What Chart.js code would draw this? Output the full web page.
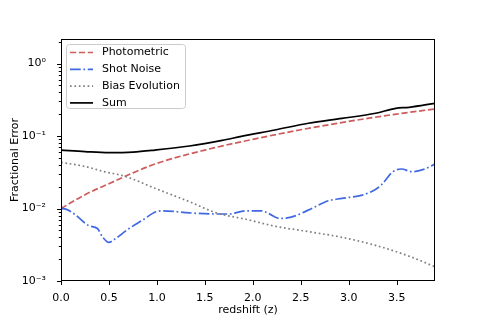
<!DOCTYPE html>
<html>
<head>
<meta charset="utf-8">
<script src="https://cdn.jsdelivr.net/npm/chart.js@4.4.0/dist/chart.umd.min.js"></script>
<style>
  html, body { margin: 0; padding: 0; background: #fff; }
  canvas { display: block; }
</style>
</head>
<body>
<canvas id="errChart" width="483" height="322"></canvas>
<script>
// values
var photoZ = [0, 0.25, 0.5, 0.75, 1.0, 1.5, 2.0, 2.5, 3.0, 3.5, 3.9];
var photoErr = [0.010, 0.0155, 0.022, 0.031, 0.042, 0.064, 0.090, 0.122, 0.159, 0.201, 0.236];

var shotZ = [0, 0.05, 0.15, 0.29, 0.38, 0.43, 0.5, 0.55, 0.71, 0.85, 0.99, 1.06, 1.34, 1.62, 1.76, 1.92, 2.09, 2.16, 2.28, 2.40, 2.64, 2.78, 2.93, 3.14, 3.27, 3.34, 3.46, 3.55, 3.66, 3.78, 3.9];
var shotErr = [0.0100, 0.0098, 0.0082, 0.0058, 0.0053, 0.0041, 0.0034, 0.0037, 0.0053, 0.0069, 0.0090, 0.0093, 0.0087, 0.0084, 0.0084, 0.0093, 0.0093, 0.0086, 0.0073, 0.0076, 0.0104, 0.0127, 0.0138, 0.0153, 0.0180, 0.0211, 0.0322, 0.0351, 0.0322, 0.0347, 0.041];

var biasZ = [0, 0.25, 0.46, 0.66, 0.98, 1.34, 1.62, 1.93, 2.23, 2.58, 2.93, 3.28, 3.63, 3.9];
var biasErr = [0.0434, 0.038, 0.032, 0.028, 0.019, 0.0124, 0.0087, 0.0071, 0.0057, 0.0048, 0.0040, 0.0031, 0.0022, 0.00157];

var sumZ = [0, 0.25, 0.5, 0.75, 0.98, 1.34, 1.68, 1.88, 2.23, 2.58, 2.93, 3.28, 3.49, 3.63, 3.9];
var sumErr = [0.064, 0.061, 0.059, 0.060, 0.064, 0.0728, 0.087, 0.099, 0.121, 0.150, 0.175, 0.206, 0.241, 0.249, 0.283];

var yTickLabels = { '1': '10\u2070', '0.1': '10\u207B\u00B9', '0.01': '10\u207B\u00B2', '0.001': '10\u207B\u00B3' };

function pts(xs, ys) {
    return xs.map(function (x, i) { return { x: x, y: ys[i] }; });
}

Chart.defaults.font.family = "'DejaVu Sans', sans-serif";
Chart.defaults.font.size = 11;
Chart.defaults.color = '#000';

// frame, tick marks and legend box like matplotlib
var framePlugin = {
    id: 'frame',
    afterDraw: function (chart) {
        var ctx = chart.ctx, a = chart.chartArea;
        ctx.save();
        ctx.strokeStyle = '#000';
        ctx.lineWidth = 1;
        ctx.strokeRect(a.left + 0.5, a.top + 0.5, a.right - a.left - 1, a.bottom - a.top - 1);

        var xs = chart.scales.x;
        xs.ticks.forEach(function (t) {
            var px = Math.round(xs.getPixelForValue(t.value)) + 0.5;
            ctx.beginPath();
            ctx.moveTo(px, a.bottom);
            ctx.lineTo(px, a.bottom + 4);
            ctx.stroke();
        });
        var ys = chart.scales.y;
        ys.ticks.forEach(function (t) {
            var lg = Math.log10(t.value);
            var major = Math.abs(lg - Math.round(lg)) < 1e-6;
            var m = t.value / Math.pow(10, Math.floor(lg + 1e-9));
            if (!major && Math.abs(m - Math.round(m)) > 1e-6) return;
            var py = Math.round(ys.getPixelForValue(t.value)) + 0.5;
            ctx.beginPath();
            ctx.moveTo(a.left, py);
            ctx.lineTo(a.left - (major ? 4 : 2.2), py);
            ctx.stroke();
        });

        // legend
        var bx = 66, by = 44, bw = 119, bh = 64;
        ctx.beginPath();
        ctx.roundRect(bx + 0.5, by + 0.5, bw, bh, 3);
        ctx.fillStyle = 'rgba(255,255,255,0.8)';
        ctx.fill();
        ctx.strokeStyle = '#cccccc';
        ctx.stroke();
        ctx.font = "11px 'DejaVu Sans'";
        ctx.textBaseline = 'middle';
        ctx.fillStyle = '#000';
        chart.data.datasets.forEach(function (ds, i) {
            var ly = 52.5 + i * 16.8;
            ctx.beginPath();
            ctx.strokeStyle = ds.borderColor;
            ctx.lineWidth = ds.borderWidth;
            ctx.setLineDash(ds.borderDash || []);
            ctx.moveTo(70, ly);
            ctx.lineTo(93, ly);
            ctx.stroke();
            ctx.setLineDash([]);
            ctx.fillText(ds.label, 102, ly);
        });
        ctx.restore();
    }
};

var errChart = new Chart('errChart', {
    type: 'line',
    data: {
        datasets: [{
            label: 'Photometric',
            data: pts(photoZ, photoErr),
            borderColor: '#cd5c5c',
            borderWidth: 1.7,
            borderDash: [6.2, 2.7],
            order: 3
        }, {
            label: 'Shot Noise',
            data: pts(shotZ, shotErr),
            borderColor: '#4169e1',
            borderWidth: 1.7,
            borderDash: [10.7, 2.7, 1.7, 2.7],
            order: 2
        }, {
            label: 'Bias Evolution',
            data: pts(biasZ, biasErr),
            borderColor: '#808080',
            borderWidth: 1.7,
            borderDash: [1.7, 2.7],
            order: 1
        }, {
            label: 'Sum',
            data: pts(sumZ, sumErr),
            borderColor: '#000000',
            borderWidth: 1.7,
            order: 0
        }]
    },
    options: {
        responsive: false,
        animation: false,
        elements: {
            point: { radius: 0 },
            line: { cubicInterpolationMode: 'monotone' }
        },
        layout: {
            padding: { left: 0, right: 48, top: 39, bottom: 0 }
        },
        scales: {
            x: {
                type: 'linear',
                min: 0,
                max: 3.9,
                grid: { display: false },
                border: { display: false },
                ticks: {
                    stepSize: 0.5,
                    includeBounds: false,
                    padding: 3,
                    maxRotation: 0,
                    callback: function (v) { return v.toFixed(1); }
                },
                title: {
                    display: true,
                    text: 'redshift (z)',
                    padding: { top: 2, bottom: 5 }
                },
                afterFit: function (s) { s.height = 41; }
            },
            y: {
                type: 'logarithmic',
                min: 0.001,
                max: 2.18,
                grid: { display: false },
                border: { display: false },
                ticks: {
                    autoSkip: false,
                    padding: 7,
                    callback: function (v) {
                        var lab = yTickLabels[String(Number(v.toPrecision(6)))];
                        return lab || '';
                    }
                },
                title: {
                    display: true,
                    text: 'Fractional Error',
                    padding: { top: 9, bottom: 4 }
                },
                afterFit: function (s) { s.width = 61; }
            }
        },
        plugins: {
            legend: { display: false },
            tooltip: { enabled: false }
        }
    },
    plugins: [framePlugin]
});
</script>
</body>
</html>
